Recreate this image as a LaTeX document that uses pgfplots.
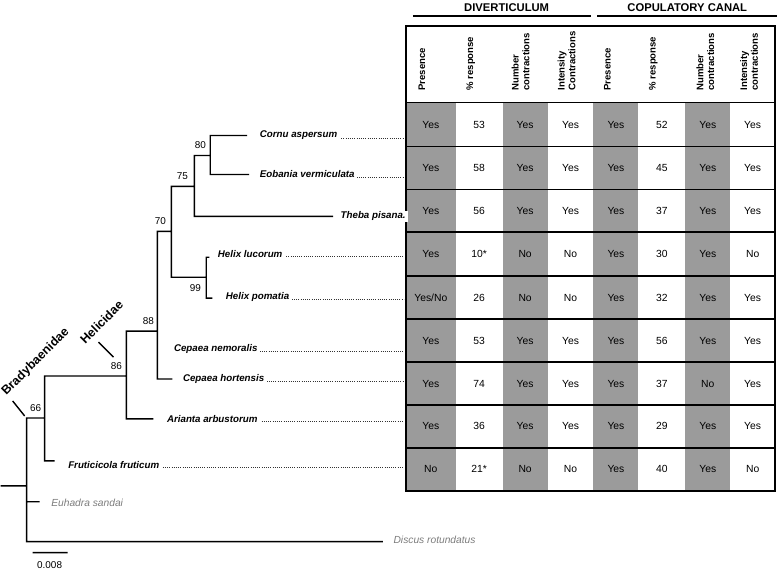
\documentclass[border=0pt]{standalone}
\usepackage{fontspec}
\setmainfont{Liberation Sans}
\usepackage{pgfplots}
\pgfplotsset{compat=1.18}
\definecolor{cellgray}{RGB}{155,155,155}
\definecolor{taxgray}{RGB}{125,125,125}

\newcommand{\taxon}[1]{\textbf{\textit{#1}}}

\begin{document}
\begin{tikzpicture}
\begin{axis}[
    width=778bp, height=570bp, scale only axis,
    xmin=0, xmax=778, ymin=0, ymax=570, y dir=reverse,
    axis line style={draw=none}, ticks=none,
    clip=false, unbounded coords=jump,
    cell/.style={draw=none, mark=none, point meta=explicit symbolic, nodes near coords,
      every node near coord/.append style={anchor=center, font=\fontsize{10.4}{11}\selectfont}},
  ]
  % grey columns of the table
  \addplot[fill=cellgray, draw=none] coordinates {(406,102) (456,102) (456,491) (406,491)};
  \addplot[fill=cellgray, draw=none] coordinates {(503,102) (548,102) (548,491) (503,491)};
  \addplot[fill=cellgray, draw=none] coordinates {(594,102) (639,102) (639,491) (594,491)};
  \addplot[fill=cellgray, draw=none] coordinates {(686,102) (731,102) (731,491) (686,491)};

  % row rules and frame
  \addplot[black, line width=1.8bp] coordinates {
    (406,102) (776,102) (nan,nan) (406,146) (776,146) (nan,nan)
    (406,189) (776,189) (nan,nan) (406,232) (776,232) (nan,nan)
    (406,276) (776,276) (nan,nan) (406,319) (776,319) (nan,nan)
    (406,362) (776,362) (nan,nan) (406,405) (776,405) (nan,nan)
    (406,448) (776,448)};
  \addplot[black, line width=2bp, line join=miter] coordinates {(406,25) (776,25) (776,491) (406,491) (406,25) (776,25)};

  % group rules
  \addplot[black, line width=1.8bp] coordinates {(413,15) (592,15) (nan,nan) (598,15) (778,15)};

  % cells, one series per column
  \addplot[cell] coordinates {(431,124)[Yes] (431,167.5)[Yes] (431,210.5)[Yes] (431,254)[Yes] (431,297.5)[Yes/No] (431,340.5)[Yes] (431,383.5)[Yes] (431,426.5)[Yes] (431,469.5)[No]};
  \addplot[cell] coordinates {(479.5,124)[53] (479.5,167.5)[58] (479.5,210.5)[56] (479.5,254)[10*] (479.5,297.5)[26] (479.5,340.5)[53] (479.5,383.5)[74] (479.5,426.5)[36] (479.5,469.5)[21*]};
  \addplot[cell] coordinates {(525.5,124)[Yes] (525.5,167.5)[Yes] (525.5,210.5)[Yes] (525.5,254)[No] (525.5,297.5)[No] (525.5,340.5)[Yes] (525.5,383.5)[Yes] (525.5,426.5)[Yes] (525.5,469.5)[No]};
  \addplot[cell] coordinates {(571,124)[Yes] (571,167.5)[Yes] (571,210.5)[Yes] (571,254)[No] (571,297.5)[No] (571,340.5)[Yes] (571,383.5)[Yes] (571,426.5)[Yes] (571,469.5)[No]};
  \addplot[cell] coordinates {(616.5,124)[Yes] (616.5,167.5)[Yes] (616.5,210.5)[Yes] (616.5,254)[Yes] (616.5,297.5)[Yes] (616.5,340.5)[Yes] (616.5,383.5)[Yes] (616.5,426.5)[Yes] (616.5,469.5)[Yes]};
  \addplot[cell] coordinates {(662.5,124)[52] (662.5,167.5)[45] (662.5,210.5)[37] (662.5,254)[30] (662.5,297.5)[32] (662.5,340.5)[56] (662.5,383.5)[37] (662.5,426.5)[29] (662.5,469.5)[40]};
  \addplot[cell] coordinates {(708.5,124)[Yes] (708.5,167.5)[Yes] (708.5,210.5)[Yes] (708.5,254)[Yes] (708.5,297.5)[Yes] (708.5,340.5)[Yes] (708.5,383.5)[No] (708.5,426.5)[Yes] (708.5,469.5)[Yes]};
  \addplot[cell] coordinates {(753.5,124)[Yes] (753.5,167.5)[Yes] (753.5,210.5)[Yes] (753.5,254)[No] (753.5,297.5)[Yes] (753.5,340.5)[Yes] (753.5,383.5)[Yes] (753.5,426.5)[Yes] (753.5,469.5)[No]};

  % column heads
  \begin{scope}[every node/.style={rotate=90, anchor=west, align=left, inner sep=0pt,
      font=\bfseries\fontsize{9.6}{10.8}\selectfont}]
    \node at (axis cs:422,90) {Presence};
    \node at (axis cs:471,90) {\% response};
    \node at (axis cs:521,90) {Number\\contractions};
    \node at (axis cs:567,90) {Intensity\\Contractions};
    \node at (axis cs:608,90) {Presence};
    \node at (axis cs:654,90) {\% response};
    \node at (axis cs:706,90) {Number\\contractions};
    \node at (axis cs:750,90) {Intensity\\contractions};
  \end{scope}
  \node[font=\bfseries\fontsize{11.3}{12}\selectfont] at (axis cs:507,6.5) {DIVERTICULUM};
  \node[font=\bfseries\fontsize{11.3}{12}\selectfont] at (axis cs:688,6.5) {COPULATORY CANAL};

  % leader dots
  \addplot[black!80, line width=0.8bp, dash pattern=on 0.8bp off 1.4bp] coordinates {
    (262,137.5) (404,137.5) (nan,nan) (262,176.5) (404,176.5) (nan,nan)
    (220,256.5) (404,256.5) (nan,nan) (228,299.5) (404,299.5) (nan,nan)
    (176,351.5) (404,351.5) (nan,nan) (185,381.5) (404,381.5) (nan,nan)
    (169,421.5) (404,421.5) (nan,nan) (70,467.5) (404,467.5)};

  % tree
  \addplot[black, line width=1.4bp] coordinates {
    (247,135) (210,135) (210,174) (249,174) (nan,nan)
    (210,155) (194,155) (194,216) (333,216) (nan,nan)
    (209,257) (206,257) (206,298) (212,298) (nan,nan)
    (194,186) (171,186) (171,277) (206,277) (nan,nan)
    (171,231) (157,231) (157,379) (172,379) (nan,nan)
    (157,331) (126,331) (126,419) (153,419) (nan,nan)
    (126,376) (44,376) (44,461) (54,461) (nan,nan)
    (44,418) (26,418) (26,542) (383,542) (nan,nan)
    (0,486) (26,486) (nan,nan)
    (26,502) (39,502) (nan,nan)
    (32,553) (67,553) (nan,nan)
    (98,342) (113,357) (nan,nan)
    (12,401) (24,416)};

  % support values
  \begin{scope}[every node/.style={font=\fontsize{10}{11}\selectfont}]
    \node at (axis cs:200,145) {80};
    \node at (axis cs:182,176) {75};
    \node at (axis cs:160,221) {70};
    \node at (axis cs:195,288) {99};
    \node at (axis cs:148,321) {88};
    \node at (axis cs:116,366) {86};
    \node at (axis cs:35,408) {66};
    \node at (axis cs:49,565) {0.008};
  \end{scope}

  % taxa
  \begin{scope}[every node/.style={anchor=west, fill=white, inner xsep=2.5bp, inner ysep=1bp,
      font=\fontsize{9.8}{10}\selectfont}]
    \node at (axis cs:257,135) {\taxon{Cornu aspersum}};
    \node at (axis cs:257,174) {\taxon{Eobania vermiculata}};
    \node at (axis cs:338,216) {\taxon{Theba pisana.}};
    \node at (axis cs:215,254) {\taxon{Helix lucorum}};
    \node at (axis cs:223,297) {\taxon{Helix pomatia}};
    \node at (axis cs:171,349) {\taxon{Cepaea nemoralis}};
    \node at (axis cs:180,379) {\taxon{Cepaea hortensis}};
    \node at (axis cs:164,419) {\taxon{Arianta arbustorum}};
    \node at (axis cs:65,465) {\taxon{Fruticicola fruticum}};
    \node[text=taxgray, font=\fontsize{10.3}{11}\selectfont\itshape] at (axis cs:48,503) {Euhadra sandai};
    \node[text=taxgray, font=\fontsize{10.3}{11}\selectfont\itshape] at (axis cs:391,540) {Discus rotundatus};
  \end{scope}

  % clades
  \node[rotate=45, inner sep=0pt, font=\bfseries\fontsize{12.5}{13}\selectfont] at (axis cs:35,362) {Bradybaenidae};
  \node[rotate=45, inner sep=0pt, font=\bfseries\fontsize{12.5}{13}\selectfont] at (axis cs:101,322) {Helicidae};
\end{axis}
\end{tikzpicture}
\end{document}
